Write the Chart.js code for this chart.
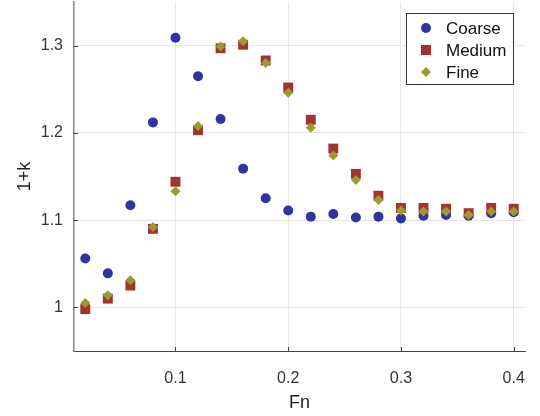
<!DOCTYPE html>
<html>
<head>
<meta charset="utf-8">
<script src="https://cdn.jsdelivr.net/npm/chart.js@4/dist/chart.umd.min.js"></script>
<style>
  html, body { margin: 0; padding: 0; background: #fff; }
</style>
</head>
<body>
<canvas id="scatter-chart" width="540" height="416"></canvas>
<script>
const fn = [0.02, 0.04, 0.06, 0.08, 0.10, 0.12, 0.14, 0.16, 0.18, 0.20,
            0.22, 0.24, 0.26, 0.28, 0.30, 0.32, 0.34, 0.36, 0.38, 0.40];
const coarse = [1.056, 1.039, 1.117, 1.212, 1.309, 1.265, 1.216, 1.159, 1.125, 1.111,
                1.104, 1.107, 1.103, 1.104, 1.102, 1.105, 1.106, 1.105, 1.108, 1.109];
const medium = [0.998, 1.010, 1.025, 1.090, 1.144, 1.203, 1.297, 1.301, 1.283, 1.252,
                1.215, 1.182, 1.153, 1.128, 1.114, 1.114, 1.113, 1.108, 1.114, 1.113];
const fine   = [1.005, 1.014, 1.031, 1.092, 1.133, 1.208, 1.299, 1.305, 1.280, 1.246,
                1.206, 1.174, 1.146, 1.123, 1.111, 1.110, 1.110, 1.106, 1.110, 1.110];
const seriesNames = ["Coarse", "Medium", "Fine"];
const xTicks = [0.1, 0.2, 0.3, 0.4];
const yTicks = [1, 1.1, 1.2, 1.3];

const colors = ["#3232a0", "#a33232", "#9b9b32"];
const styles = ["circle", "rect", "rectRot"];
const radii = [5, 7, 5];
const FONT = "'Liberation Sans', Arial, Helvetica, sans-serif";

function points(ys) {
  return fn.map((x, i) => ({ x: x, y: ys[i] }));
}

// matlab-style ticks pointing into the axes
const insideTicks = {
  id: 'insideTicks',
  afterDraw(chart) {
    const ctx = chart.ctx;
    const x = chart.scales.x, y = chart.scales.y;
    const area = chart.chartArea;
    ctx.save();
    ctx.strokeStyle = '#444';
    ctx.lineWidth = 1;
    ctx.beginPath();
    xTicks.forEach(v => {
      const px = Math.round(x.getPixelForValue(v)) + 0.5;
      ctx.moveTo(px, area.bottom);
      ctx.lineTo(px, area.bottom - 4);
    });
    yTicks.forEach(v => {
      const py = Math.round(y.getPixelForValue(v)) + 0.5;
      ctx.moveTo(area.left, py);
      ctx.lineTo(area.left + 4, py);
    });
    ctx.stroke();
    ctx.restore();
  }
};

// legend box in the upper right corner
const boxLegend = {
  id: 'boxLegend',
  afterDraw(chart) {
    const ctx = chart.ctx;
    const bx = 406.5, by = 13.5, bw = 107, bh = 71;
    ctx.save();
    ctx.fillStyle = '#fff';
    ctx.fillRect(bx, by, bw, bh);
    ctx.strokeStyle = '#333';
    ctx.lineWidth = 1;
    ctx.strokeRect(bx, by, bw, bh);
    ctx.font = '17px ' + FONT;
    ctx.textBaseline = 'middle';
    ctx.textAlign = 'left';
    const rowY = [28, 50, 72];
    chart.data.datasets.forEach((ds, i) => {
      const cx = 426, cy = rowY[i];
      ctx.fillStyle = ds.backgroundColor;
      ctx.beginPath();
      if (i === 0) {
        ctx.arc(cx, cy, 5, 0, Math.PI * 2);
      } else if (i === 1) {
        ctx.rect(cx - 5, cy - 5, 10, 10);
      } else {
        ctx.moveTo(cx - 5, cy);
        ctx.lineTo(cx, cy - 5);
        ctx.lineTo(cx + 5, cy);
        ctx.lineTo(cx, cy + 5);
        ctx.closePath();
      }
      ctx.fill();
      ctx.fillStyle = '#111';
      ctx.fillText(ds.label, 446, cy + 1);
    });
    ctx.restore();
  }
};

const series = [coarse, medium, fine];

let chart = new Chart(document.getElementById("scatter-chart"), {
  type: 'scatter',
  data: {
    datasets: series.map((ys, i) => ({
      label: seriesNames[i],
      data: points(ys),
      backgroundColor: colors[i],
      borderColor: colors[i],
      borderWidth: 0,
      pointStyle: styles[i],
      pointRadius: radii[i],
      pointHoverRadius: radii[i],
      order: 2 - i
    }))
  },
  options: {
    responsive: false,
    animation: false,
    events: [],
    layout: { autoPadding: false, padding: { left: 0, right: 15, top: 2, bottom: 0 } },
    plugins: {
      legend: { display: false },
      tooltip: { enabled: false }
    },
    scales: {
      x: {
        type: 'linear',
        min: 0.01,
        max: 0.41,
        afterBuildTicks: s => { s.ticks = xTicks.map(v => ({ value: v })); },
        afterFit: s => { s.height = 65; s.paddingLeft = 0; s.paddingRight = 0; },
        grid: { color: '#e6e6e6', drawTicks: false },
        border: { color: '#444', width: 1 },
        ticks: {
          color: '#333',
          padding: 18,
          font: { family: FONT, size: 16 },
          callback: v => String(v)
        },
        title: {
          display: true,
          text: 'Fn',
          color: '#222',
          font: { family: FONT, size: 18 },
          padding: { top: 0, bottom: 2 }
        }
      },
      y: {
        type: 'linear',
        min: 0.95,
        max: 1.35,
        afterBuildTicks: s => { s.ticks = yTicks.map(v => ({ value: v })); },
        afterFit: s => { s.width = 74; s.paddingTop = 0; s.paddingBottom = 0; },
        grid: { color: '#e6e6e6', drawTicks: false },
        border: { color: '#888', width: 1.5 },
        ticks: {
          color: '#333',
          padding: 11,
          font: { family: FONT, size: 16 },
          callback: v => String(v)
        },
        title: {
          display: true,
          text: '1+k',
          color: '#222',
          font: { family: FONT, size: 18 },
          padding: { top: 14, bottom: 0 }
        }
      }
    }
  },
  plugins: [insideTicks, boxLegend]
});
</script>
</body>
</html>
